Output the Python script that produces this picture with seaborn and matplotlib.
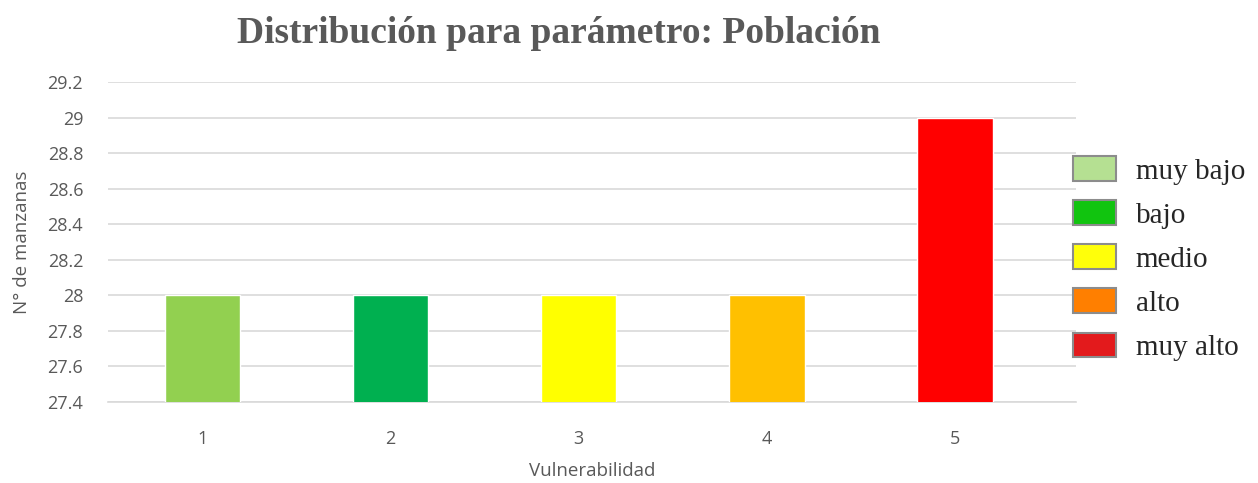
import matplotlib
matplotlib.use('Agg')
import matplotlib.pyplot as plt
from matplotlib.patches import Patch
import seaborn as sns
import pandas as pd

# datos
vulnerabilidad = ['1', '2', '3', '4', '5']
manzanas = [28, 28, 28, 28, 29]
bar_colors = ['#92D050', '#00B050', '#FFFF00', '#FFC000', '#FF0000']
legend_labels = ['muy bajo', 'bajo', 'medio', 'alto', 'muy alto']
legend_colors = ['#B5E092', '#11C40F', '#FFFF0A', '#FF7F00', '#E31A1C']
y_ticks = [27.4, 27.6, 27.8, 28, 28.2, 28.4, 28.6, 28.8, 29, 29.2]

sns.set_style('white')
plt.rcParams['font.family'] = ['Open Sans', 'DejaVu Sans']
grey = '#595959'

df = pd.DataFrame({'vuln': vulnerabilidad, 'n': manzanas})

fig = plt.figure(figsize=(12.58, 4.83), dpi=100)
ax = fig.add_axes([0.086, 0.168, 0.769, 0.662])
sns.barplot(data=df, x='vuln', y='n', hue='vuln', palette=bar_colors,
            legend=False, width=0.4, saturation=1, ax=ax, zorder=3)

ax.set_xlim(-0.5, 4.64)
ax.set_ylim(27.4, 29.2)
ax.set_yticks(y_ticks)
ax.set_yticklabels([f'{v:g}' for v in y_ticks])
ax.grid(axis='y', color='#D9D9D9', linewidth=1.2, zorder=0)
ax.set_axisbelow(True)
for s in ['left', 'right', 'top']:
    ax.spines[s].set_visible(False)
ax.spines['bottom'].set_color('#D9D9D9')
ax.spines['bottom'].set_linewidth(1.2)
ax.tick_params(axis='both', length=0, labelsize=13, colors=grey)
ax.tick_params(axis='x', pad=20)
ax.tick_params(axis='y', pad=18)
ax.set_xlabel('Vulnerabilidad', fontsize=13.5, color=grey, labelpad=10)
ax.set_ylabel('N° de manzanas', fontsize=13.5, color=grey, labelpad=12)

fig.suptitle('Distribución para parámetro: Población', x=0.444, y=0.966,
             fontsize=27, fontweight='bold', color=grey,
             family=['Liberation Serif', 'DejaVu Serif'])

# leyenda (colores propios, distintos de las barras)
handles = [Patch(facecolor=c, edgecolor='#8C8C8C', linewidth=1.5) for c in legend_colors]
fig.legend(handles, legend_labels, loc='upper left', bbox_to_anchor=(0.832, 0.731),
           frameon=False, prop={'family': ['Liberation Serif', 'DejaVu Serif'], 'size': 21},
           handlelength=1.47, handleheight=0.92, handletextpad=0.68, labelspacing=0.54)

fig.savefig('out.png', dpi=100)
